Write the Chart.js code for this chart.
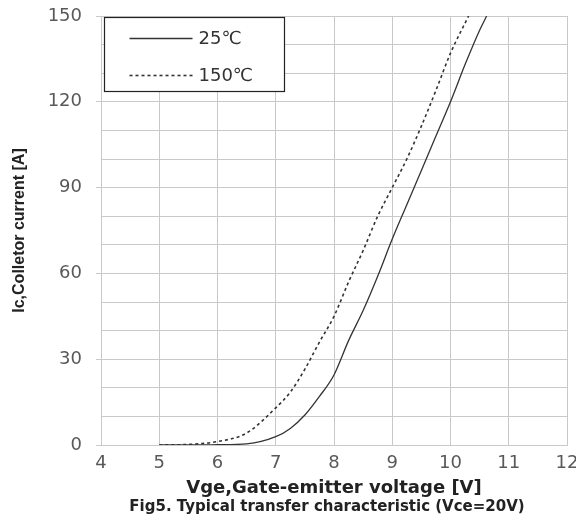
<!DOCTYPE html>
<html>
<head>
<meta charset="utf-8">
<script src="https://cdn.jsdelivr.net/npm/chart.js@4"></script>
<style>
  html, body { margin: 0; padding: 0; background: #fff; }
  #wrap { width: 576px; height: 519px; }
</style>
</head>
<body>
<div id="wrap"><canvas id="transferChart" width="576" height="519"></canvas></div>
<script>
// Vge [V] / Ic [A]
const vge25 = [5, 5.5, 6, 6.5, 7, 7.25, 7.5, 7.75, 8, 8.25, 8.5, 8.75, 9, 9.25, 9.5, 9.75, 10, 10.25, 10.5, 10.62];
const ic25  = [0, 0, 0.1, 0.4, 2.9, 5.8, 10.5, 17, 24.5, 36.5, 47, 59, 72, 84, 96, 108, 120, 133, 145, 150];

const vge150 = [5, 5.5, 6, 6.5, 7, 7.25, 7.5, 7.75, 8, 8.25, 8.5, 8.75, 9, 9.25, 9.5, 9.75, 10, 10.31];
const ic150  = [0, 0.2, 1.2, 4.2, 13, 18.5, 26.5, 36, 45, 57, 68, 80, 90, 100, 111.5, 124, 137, 150];

const seriesLabels = ['25\u2103', '150\u2103'];
const xTicks = [4, 5, 6, 7, 8, 9, 10, 11, 12];
const yTickLabels = [0, 30, 60, 90, 120, 150];

const xTitle = 'Vge,Gate-emitter voltage [V]';
const yTitle = 'Ic,Colletor current [A]';
const caption = 'Fig5. Typical transfer characteristic (Vce=20V)';

const toPoints = (xs, ys) => xs.map((x, i) => ({x: x, y: ys[i]}));

const gridColor = '#c9c9c9';
const tickColor = '#595959';

// boxed legend in the upper left of the plot
const boxLegend = {
    id: 'boxLegend',
    afterDatasetsDraw(chart) {
        const {ctx, chartArea} = chart;
        const x0 = chartArea.left + 3.5, y0 = chartArea.top + 1.5;
        ctx.save();
        ctx.fillStyle = '#fff';
        ctx.fillRect(x0, y0, 180, 74);
        ctx.strokeStyle = '#222';
        ctx.lineWidth = 1.2;
        ctx.strokeRect(x0, y0, 180, 74);
        chart.data.datasets.forEach((ds, i) => {
            const y = y0 + 21 + i * 37;
            ctx.beginPath();
            ctx.setLineDash(ds.borderDash || []);
            ctx.strokeStyle = ds.borderColor;
            ctx.lineWidth = ds.borderWidth;
            ctx.moveTo(x0 + 25, y);
            ctx.lineTo(x0 + 88, y);
            ctx.stroke();
            ctx.setLineDash([]);
            ctx.fillStyle = '#333';
            ctx.font = '18px "DejaVu Sans"';
            ctx.textBaseline = 'middle';
            ctx.fillText(ds.label, x0 + 94, y + 1);
        });
        ctx.restore();
    }
};

const captionPlugin = {
    id: 'caption',
    afterDraw(chart) {
        const {ctx, chartArea} = chart;
        ctx.save();
        ctx.fillStyle = '#222';
        ctx.font = 'bold 15px "DejaVu Sans"';
        ctx.textAlign = 'center';
        ctx.textBaseline = 'middle';
        ctx.fillText(caption, (chartArea.left + chartArea.right) / 2 - 7, 507);
        ctx.restore();
    }
};

const data = {
    datasets: [
        {
            label: seriesLabels[0],
            data: toPoints(vge25, ic25),
            borderColor: '#333',
            borderWidth: 1.3,
            showLine: true,
            pointRadius: 0,
            cubicInterpolationMode: 'monotone',
        },
        {
            label: seriesLabels[1],
            data: toPoints(vge150, ic150),
            borderColor: '#333',
            borderWidth: 1.6,
            borderDash: [3, 3],
            showLine: true,
            pointRadius: 0,
            cubicInterpolationMode: 'monotone',
        },
    ],
};

const config = {
    type: 'scatter',
    data: data,
    options: {
        responsive: false,
        animation: false,
        layout: { padding: { top: 16, right: 9, bottom: 20, left: 0 } },
        plugins: {
            legend: { display: false },
            tooltip: { enabled: false },
        },
        scales: {
            x: {
                type: 'linear',
                min: xTicks[0],
                max: xTicks[xTicks.length - 1],
                afterBuildTicks: (scale) => {
                    scale.ticks = xTicks.map(v => ({value: v}));
                },
                afterFit: (scale) => {
                    scale.height = 54;
                    scale.paddingLeft = 0;
                    scale.paddingRight = 0;
                },
                grid: { color: gridColor, drawTicks: false },
                border: { color: gridColor },
                ticks: {
                    color: tickColor,
                    padding: 8,
                    maxRotation: 0,
                    font: { family: '"DejaVu Sans"', size: 18 },
                },
                title: {
                    display: true,
                    text: xTitle,
                    color: '#222',
                    padding: 0,
                    font: { family: '"DejaVu Sans"', size: 18, weight: 'bold' },
                },
            },
            y: {
                min: 0,
                max: 150,
                afterFit: (scale) => {
                    scale.width = 101;
                    scale.paddingTop = 0;
                    scale.paddingBottom = 0;
                },
                grid: {
                    color: gridColor,
                    tickLength: 5,
                    tickColor: (c) => yTickLabels.includes(c.tick.value) ? gridColor : 'rgba(0,0,0,0)',
                },
                border: { color: gridColor },
                ticks: {
                    stepSize: 10,
                    color: tickColor,
                    padding: 14,
                    font: { family: '"DejaVu Sans"', size: 18 },
                    callback: function (value) {
                        return yTickLabels.includes(value) ? value : '';
                    },
                },
                title: {
                    display: true,
                    text: yTitle,
                    color: '#222',
                    padding: { top: 10, bottom: 0 },
                    font: { family: '"Liberation Sans Narrow", "Liberation Sans"', size: 16, weight: 'bold' },
                },
            },
        },
    },
    plugins: [boxLegend, captionPlugin],
};

const transferChart = new Chart(document.getElementById('transferChart').getContext('2d'), config);
</script>
</body>
</html>
